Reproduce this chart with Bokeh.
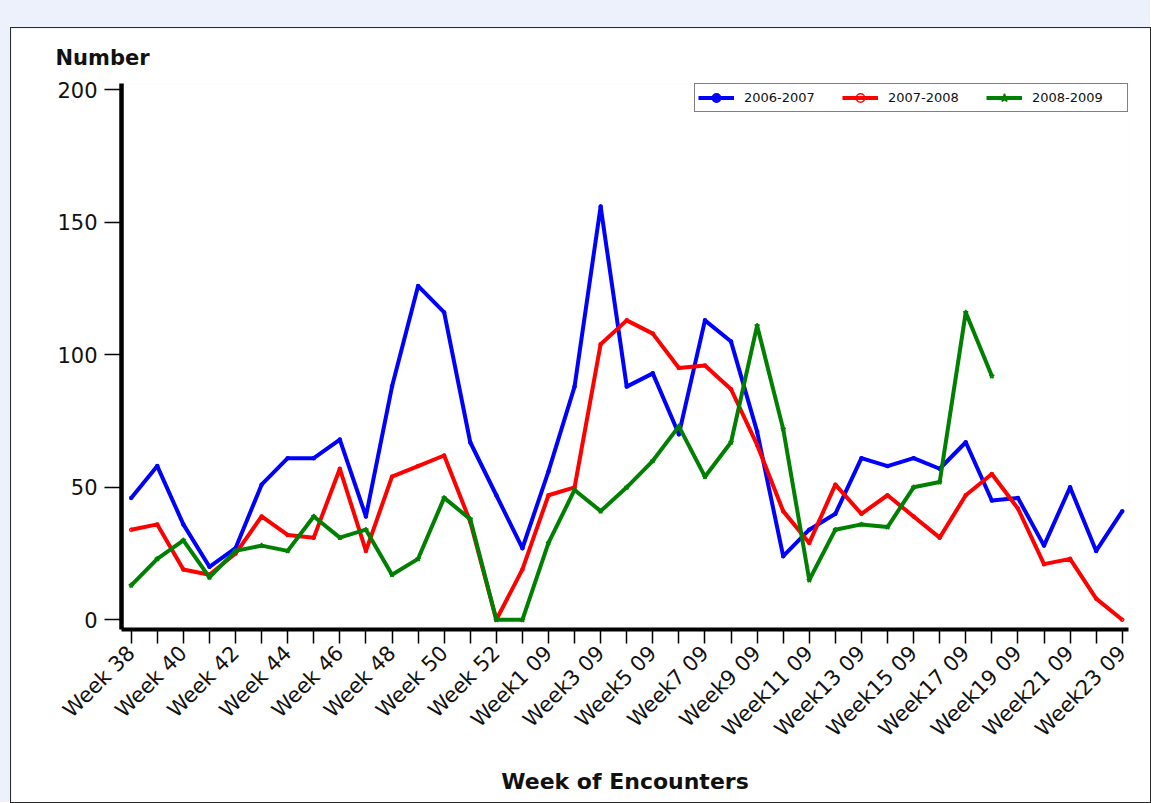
import math
from bokeh.plotting import figure
from bokeh.models import Range1d, FixedTicker, Legend, LegendItem
from bokeh.layouts import column
from bokeh.embed import file_html
from bokeh.resources import INLINE

weeks = ["Week 38", "Week 39", "Week 40", "Week 41", "Week 42", "Week 43", "Week 44",
         "Week 45", "Week 46", "Week 47", "Week 48", "Week 49", "Week 50", "Week 51",
         "Week 52", "Week 53",
         "Week1 09", "Week2 09", "Week3 09", "Week4 09", "Week5 09", "Week6 09",
         "Week7 09", "Week8 09", "Week9 09", "Week10 09", "Week11 09", "Week12 09",
         "Week13 09", "Week14 09", "Week15 09", "Week16 09", "Week17 09", "Week18 09",
         "Week19 09", "Week20 09", "Week21 09", "Week22 09", "Week23 09"]

s2006_2007 = [46, 58, 36, 20, 27, 51, 61, 61, 68, 39, 88, 126, 116, 67, 47, 27,
              56, 88, 156, 88, 93, 70, 113, 105, 71, 24, 34, 40, 61, 58, 61, 57,
              67, 45, 46, 28, 50, 26, 41]
s2007_2008 = [34, 36, 19, 17, 25, 39, 32, 31, 57, 26, 54, 58, 62, 37, 0, 19,
              47, 50, 104, 113, 108, 95, 96, 87, 66, 41, 29, 51, 40, 47, 39, 31,
              47, 55, 42, 21, 23, 8, 0]
s2008_2009 = [13, 23, 30, 16, 26, 28, 26, 39, 31, 34, 17, 23, 46, 38, 0, 0,
              29, 49, 41, 50, 60, 73, 54, 67, 111, 72, 15, 34, 36, 35, 50, 52,
              116, 92]

y_ticks = [0, 50, 100, 150, 200]
series_names = ["2006-2007", "2007-2008", "2008-2009"]

FONT = "DejaVu Sans"
BLUE, RED, GREEN = "#0000ff", "#ff0000", "#008000"

p = figure(width=1139, height=774, output_backend="svg", toolbar_location=None,
           x_range=Range1d(-0.372, 38.24), y_range=Range1d(-3.67, 202.4),
           min_border_left=110, min_border_right=22, min_border_top=55,
           min_border_bottom=173, background_fill_color="white",
           border_fill_color="white", outline_line_color=None, title="Number")

p.title.text_font = FONT
p.title.text_font_size = "21px"
p.title.text_font_style = "bold"
p.title.align = "left"
p.title.offset = -66
p.title.standoff = 27
p.title.text_color = "#111111"

p.grid.visible = False

idx = list(range(len(weeks)))
xa = p.xaxis[0]
xa.ticker = FixedTicker(ticks=idx)
xa.major_label_overrides = {i: (weeks[i] if i % 2 == 0 else "") for i in idx}
xa.major_label_orientation = math.pi / 4
xa.axis_line_width = 4
xa.axis_line_color = "black"
xa.major_tick_line_width = 1.5
xa.major_tick_out = 14
xa.major_tick_in = 0
xa.minor_tick_out = 0
xa.minor_tick_in = 0
xa.major_label_text_font = FONT
xa.major_label_text_font_size = "21px"
xa.major_label_text_color = "#111111"
xa.major_label_standoff = 6
xa.axis_label = "Week of Encounters"
xa.axis_label_text_font = FONT
xa.axis_label_text_font_size = "22px"
xa.axis_label_text_font_style = "bold"
xa.axis_label_text_color = "#111111"
xa.axis_label_standoff = 16

ya = p.yaxis[0]
ya.ticker = FixedTicker(ticks=y_ticks)
ya.axis_line_width = 4.5
ya.axis_line_color = "black"
ya.major_tick_line_width = 1.5
ya.major_tick_out = 17
ya.major_tick_in = 0
ya.minor_tick_out = 0
ya.minor_tick_in = 0
ya.major_label_text_font = FONT
ya.major_label_text_font_size = "21px"
ya.major_label_text_color = "#111111"
ya.major_label_standoff = 7

items = []
specs = [(s2006_2007, BLUE, "circle", BLUE, 3),
         (s2007_2008, RED, "circle", None, 3),
         (s2008_2009, GREEN, "star", None, 5)]
for name, (vals, col, mk, fill, sz) in zip(series_names, specs):
    xs = idx[:len(vals)]
    lr = p.line(xs, vals, line_color=col, line_width=4, line_join="round")
    sr = p.scatter(xs, vals, marker=mk, size=sz, line_color=col,
                   fill_color=(fill if fill else "white"),
                   fill_alpha=(1.0 if fill else 0.0), line_width=1.5)
    items.append(LegendItem(label=name, renderers=[lr, sr]))

legend = Legend(items=items, orientation="horizontal", location="top_right",
                margin=0, padding=3, spacing=6, label_standoff=10,
                glyph_width=36, glyph_height=21, label_width=92, label_height=21,
                border_line_color="black", border_line_width=1.5,
                background_fill_color="white", background_fill_alpha=1.0,
                label_text_font=FONT, label_text_font_size="13px",
                label_text_color="#111111")
p.add_layout(legend)

p.margin = (28, 0, 0, 11)
p.styles = {"outline": "1.5px solid #2a2a2a"}

page = column(p, styles={"background-color": "#edf1fc"})

open("out.html", "w").write(file_html(page, INLINE))
